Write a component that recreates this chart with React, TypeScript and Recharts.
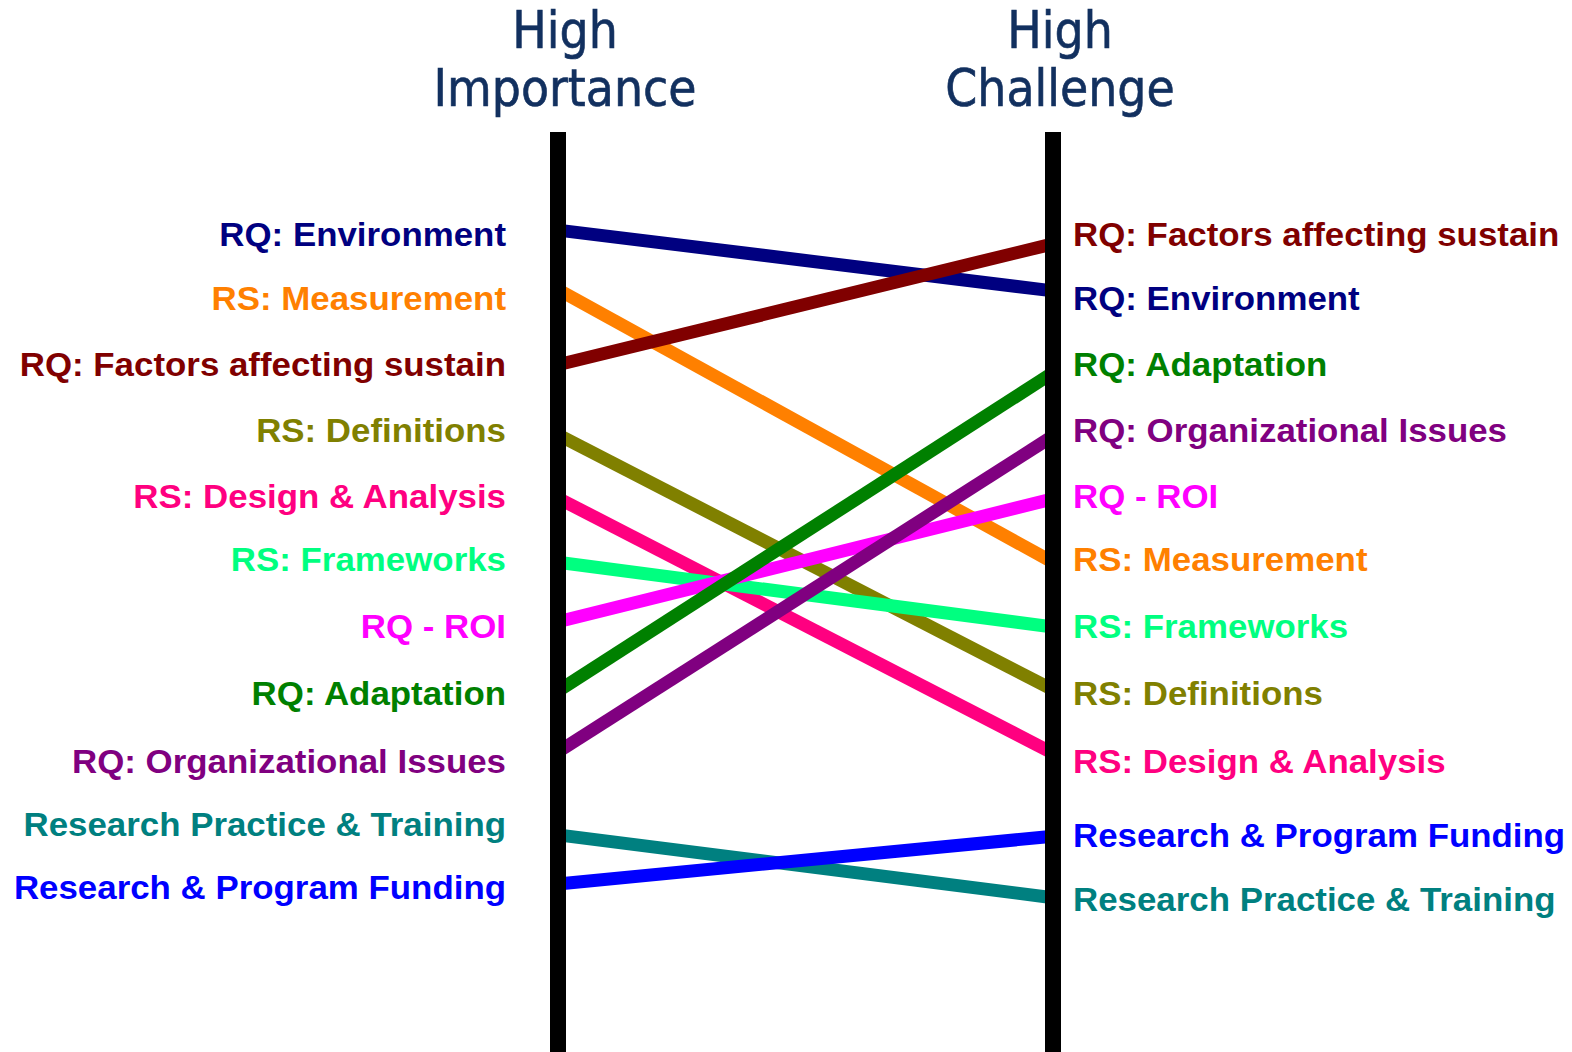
import { LineChart, Line, XAxis, YAxis, Scatter } from 'recharts'

// topics in the order they are ranked on the "High Importance" side
const topics = [
  'RQ: Environment',
  'RS: Measurement',
  'RQ: Factors affecting sustain',
  'RS: Definitions',
  'RS: Design & Analysis',
  'RS: Frameworks',
  'RQ - ROI',
  'RQ: Adaptation',
  'RQ: Organizational Issues',
  'Research Practice & Training',
  'Research & Program Funding',
]

const colors = [
  '#000080',
  '#FF8000',
  '#800000',
  '#808000',
  '#FF0080',
  '#00FF80',
  '#FF00FF',
  '#008000',
  '#800080',
  '#008080',
  '#0000FF',
]

// where each line meets the axes (rank units, 1 = top)
const importancePos = [0.94, 1.85, 3.0, 4.07, 5.04, 6.02, 6.93, 7.99, 8.92, 10.19, 10.94]
const challengePos = [1.87, 6.02, 1.15, 7.97, 8.94, 7.01, 5.05, 3.12, 4.09, 11.15, 10.21]

// where the labels sit
const importanceLabelPos = [1, 1.98, 3.0, 4.0, 5.02, 5.98, 7.01, 8.03, 9.06, 10.03, 11.0]
const challengeLabelPos = [1.98, 5.98, 1, 8.03, 9.06, 7.01, 5.02, 3.0, 4.0, 11.18, 10.2]

const axisTitles = [['High', 'Importance'], ['High', 'Challenge']]

const W = 1572
const H = 1052
const LABEL_FONT = "'Liberation Sans', Arial, sans-serif"
const TITLE_FONT = "'DejaVu Sans Condensed', 'DejaVu Sans', sans-serif"

const leftLabels = topics.map((name, i) => ({ x: 0, y: importanceLabelPos[i], name, color: colors[i] }))
const rightLabels = topics.map((name, i) => ({ x: 1, y: challengeLabelPos[i], name, color: colors[i] }))

function LabelShape(side: 'left' | 'right') {
  return (props: any) => {
    const { cx, cy, payload } = props
    const tx = side === 'left' ? cx - 52 : cx + 20
    return (
      <text
        transform={`translate(${tx},${cy + 11.5}) scale(1.09,1.02)`}
        textAnchor={side === 'left' ? 'end' : 'start'}
        fill={payload.color}
        fontFamily={LABEL_FONT}
        fontWeight="bold"
        fontSize={32}
      >
        {payload.name}
      </text>
    )
  }
}

function TitleTick(props: any) {
  const { x, payload } = props
  const lines = axisTitles[payload.value === 0 ? 0 : 1]
  return (
    <text
      textAnchor="middle"
      fill="#12305f"
      fontFamily={TITLE_FONT}
      fontStretch="condensed"
      fontSize={51}
      stroke="#12305f"
      strokeWidth={0.6}
    >
      <tspan x={x + 7} y={48}>{lines[0]}</tspan>
      <tspan x={x + 7} y={106}>{lines[1]}</tspan>
    </text>
  )
}

export default function App() {
  return (
    <div style={{ position: 'absolute', left: 0, top: 0, width: W, height: H, background: '#fff' }}>
      <LineChart width={W} height={H} margin={{ top: 0, right: 0, bottom: 0, left: 0 }}>
        <XAxis
          type="number"
          dataKey="x"
          domain={[0, 1]}
          ticks={[0, 1]}
          interval={0}
          orientation="top"
          height={132}
          axisLine={false}
          tickLine={false}
          tick={<TitleTick />}
        />
        {topics.map((name, i) => (
          <Line
            key={name}
            yAxisId="l"
            data={[
              { x: 0, y: importancePos[i] },
              { x: 1, y: challengePos[i] },
            ]}
            dataKey="y"
            stroke={colors[i]}
            strokeWidth={13}
            dot={false}
            activeDot={false}
            isAnimationActive={false}
          />
        ))}
        <YAxis
          yAxisId="l"
          type="number"
          domain={[-0.56, 13.51]}
          reversed
          width={558}
          axisLine={{ stroke: '#000', strokeWidth: 16 }}
          tick={false}
          tickLine={false}
        />
        <YAxis
          yAxisId="r"
          orientation="right"
          type="number"
          domain={[-0.56, 13.51]}
          reversed
          width={519}
          axisLine={{ stroke: '#000', strokeWidth: 16 }}
          tick={false}
          tickLine={false}
        />
        <Scatter yAxisId="l" data={leftLabels} dataKey="y" shape={LabelShape('left')} isAnimationActive={false} />
        <Scatter yAxisId="l" data={rightLabels} dataKey="y" shape={LabelShape('right')} isAnimationActive={false} />
      </LineChart>
    </div>
  )
}
